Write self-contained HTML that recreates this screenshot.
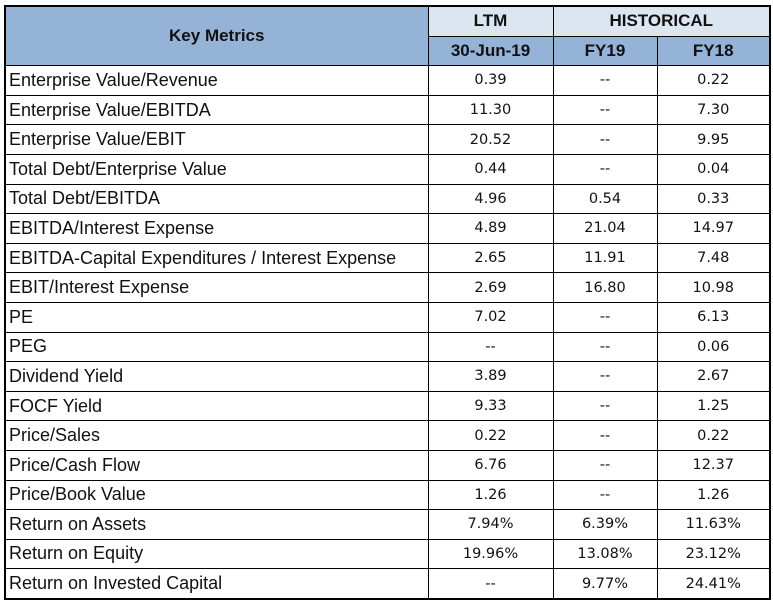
<!DOCTYPE html>
<html><head><meta charset="utf-8"><style>
body{margin:0;background:#fff;width:773px;height:606px;overflow:hidden}
table{position:absolute;left:4px;top:5px;border-collapse:collapse;border:2px solid #000;table-layout:fixed}
td,th{border:1px solid #000;padding:0;height:28.6px;font-size:14.5px;color:#111;overflow:hidden;white-space:nowrap}
th{font-family:"Liberation Sans",sans-serif;font-weight:bold;font-size:17px}
td.l{font-family:"Liberation Sans",sans-serif;font-size:18px;text-align:left;padding-left:3px}
td.n{font-family:"DejaVu Sans",sans-serif;text-align:center}
.h1{background:#95b3d7}.h2{background:#dce6f1}
</style></head><body>
<table>
<colgroup><col style="width:423px"><col style="width:125px"><col style="width:104px"><col style="width:113px"></colgroup>
<thead>
<tr><th rowspan="2" class="h1">Key Metrics</th><th class="h2">LTM</th><th colspan="2" class="h2">HISTORICAL</th></tr>
<tr><th class="h1">30-Jun-19</th><th class="h1">FY19</th><th class="h1">FY18</th></tr>
</thead>
<tbody id="tb"></tbody>
</table>
<script>
const metrics=["Enterprise Value/Revenue","Enterprise Value/EBITDA","Enterprise Value/EBIT","Total Debt/Enterprise Value","Total Debt/EBITDA","EBITDA/Interest Expense","EBITDA-Capital Expenditures / Interest Expense","EBIT/Interest Expense","PE","PEG","Dividend Yield","FOCF Yield","Price/Sales","Price/Cash Flow","Price/Book Value","Return on Assets","Return on Equity","Return on Invested Capital"];
const ltm=["0.39","11.30","20.52","0.44","4.96","4.89","2.65","2.69","7.02","--","3.89","9.33","0.22","6.76","1.26","7.94%","19.96%","--"];
const fy19=["--","--","--","--","0.54","21.04","11.91","16.80","--","--","--","--","--","--","--","6.39%","13.08%","9.77%"];
const fy18=["0.22","7.30","9.95","0.04","0.33","14.97","7.48","10.98","6.13","0.06","2.67","1.25","0.22","12.37","1.26","11.63%","23.12%","24.41%"];
const tb=document.getElementById('tb');
metrics.forEach((m,i)=>{
const tr=document.createElement('tr');


const c0=document.createElement('td');c0.className='l';c0.textContent=m;


tr.appendChild(c0);
[ltm[i],fy19[i],fy18[i]].forEach((v,j)=>{
const c=document.createElement('td');c.className='n';c.textContent=v;


tr.appendChild(c);});
tb.appendChild(tr);});
</script>
</body></html>
